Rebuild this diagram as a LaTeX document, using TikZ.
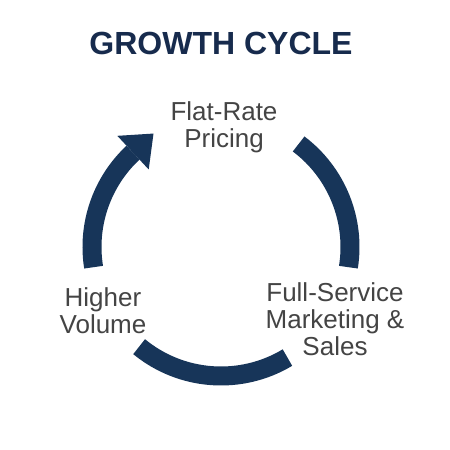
\documentclass[tikz,border=0pt]{standalone}
\usepackage{fontspec}
\setmainfont{Liberation Sans}
\usetikzlibrary{calc}
\definecolor{navy}{HTML}{173559}
\definecolor{titlenavy}{HTML}{172B4D}
\definecolor{txtgray}{HTML}{444444}
\begin{document}
\begin{tikzpicture}[x=1pt,y=1pt,
  arcline/.style={draw=navy, line width=19pt},
  lbl/.style={text=txtgray, font=\fontsize{26}{27}\selectfont, align=center, inner sep=0pt}]
\useasboundingbox[fill=white] (0,0) rectangle (450pt,450pt);
\coordinate (C) at (221pt,203pt);
\node[text=titlenavy, font=\fontsize{32}{36}\selectfont\bfseries, anchor=base, inner sep=0pt] (title) at (221pt,395pt) {GROWTH CYCLE};
% left arc with arrow head
\draw[arcline] ($(C)+(189:129pt)$) arc[start angle=189, end angle=133, radius=129pt];
\fill[navy] ($(C)+(133:152pt)$) -- ($(C)+(133:129pt)+(43:28pt)$) -- ($(C)+(133:106pt)$) -- cycle;
% right arc
\draw[arcline] ($(C)+(53:129pt)$) arc[start angle=53, end angle=-9, radius=129pt];
% bottom arc
\draw[arcline] ($(C)+(230.6:129pt)$) arc[start angle=230.6, end angle=301, radius=129pt];
\node[lbl] (flat) at (224pt,323pt) {Flat-Rate\\Pricing};
\node[lbl] (higher) at (103pt,139pt) {Higher\\Volume};
\node[lbl] (full) at (335pt,131pt) {Full-Service\\Marketing \&\\Sales};
\end{tikzpicture}
\end{document}
